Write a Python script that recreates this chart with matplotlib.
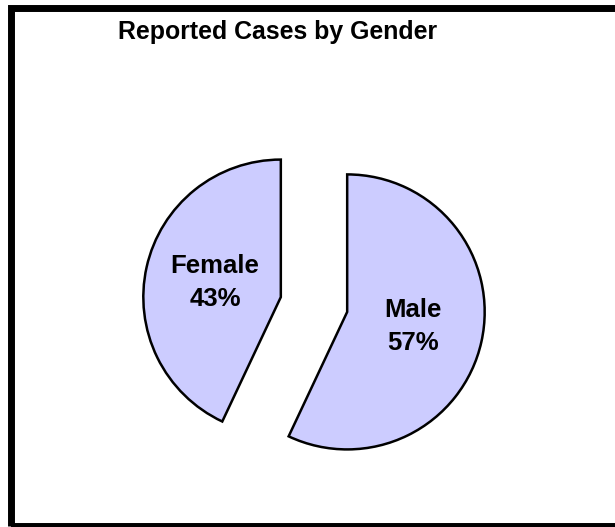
import matplotlib
matplotlib.use("Agg")
import matplotlib.pyplot as plt
from matplotlib.patches import Rectangle

categories = ["Female", "Male"]
values = [43, 57]
title = "Reported Cases by Gender"

W, H = 615, 527
fig = plt.figure(figsize=(W / 100, H / 100), dpi=100)
plt.rcParams['font.family'] = ['Liberation Sans', 'DejaVu Sans']

ax = fig.add_axes([0, 0, 1, 1])
labels = [f"{c}\n{v}%" for c, v in zip(categories, values)]
wedges, texts = ax.pie(values, labels=labels, startangle=90, counterclock=True,
                       center=(314, 527 - 304.5), radius=137.5,
                       explode=[34, 34], labeldistance=0.49,
                       colors=["#CCCCFF", "#CCCCFF"],
                       wedgeprops=dict(edgecolor="black", linewidth=1.8),
                       textprops=dict(fontsize=18.5, fontweight="bold", color="black"))
for t in texts:
    t.set_ha("center")
    t.set_va("center")
    t.set_linespacing(1.45)
ax.set_xlim(0, W)
ax.set_ylim(0, H)
ax.set_aspect("equal")
ax.axis("off")

# figure frame (right and bottom sides fall outside the image)
fig.patches.append(Rectangle((10.5 / W, (H - 526) / H), (622 - 10.5) / W, (526 - 7.5) / H,
                             transform=fig.transFigure, fill=False,
                             edgecolor="black", linewidth=5.0, clip_on=False))

fig.text(277.5 / W, 1 - 39 / H, title, ha="center", va="baseline",
         fontsize=17.9, fontweight="bold")

fig.savefig("out.png", dpi=100)
